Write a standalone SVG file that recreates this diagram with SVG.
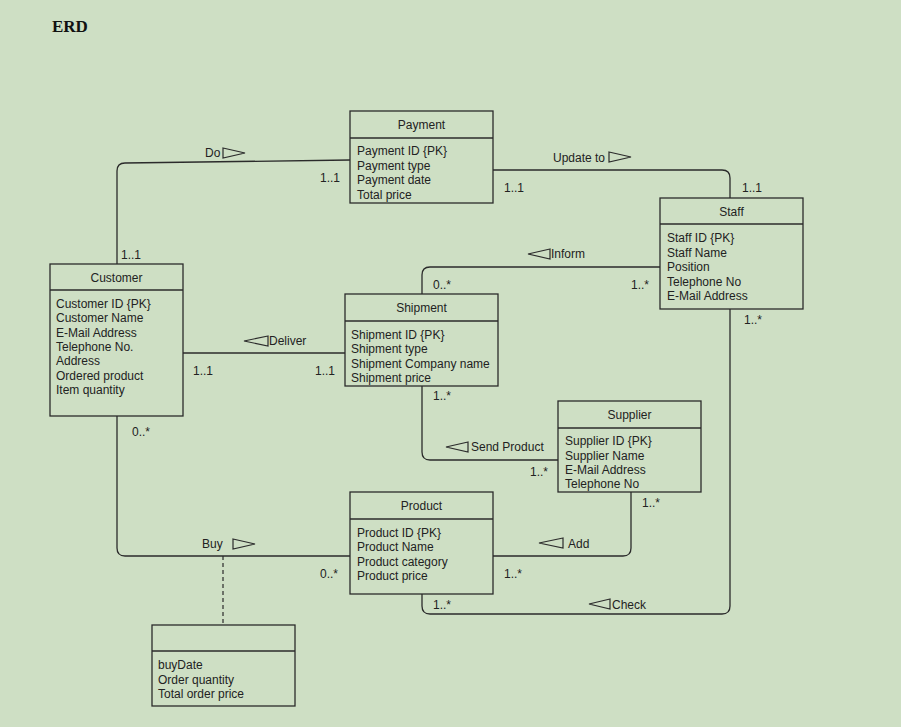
<svg xmlns="http://www.w3.org/2000/svg" width="901" height="727" viewBox="0 0 901 727">
<style>
.bg{fill:#cedfc4}
.box{fill:none;stroke:#2b2b2b;stroke-width:1.3}
.ln{fill:none;stroke:#2b2b2b;stroke-width:1.3}
.dash{fill:none;stroke:#2b2b2b;stroke-width:1.2;stroke-dasharray:4 3}
.tri{fill:none;stroke:#2b2b2b;stroke-width:1.2}
text{font-family:"Liberation Sans",Arial,sans-serif;font-size:12px;fill:#222}
.h{text-anchor:middle}
.title{font-family:"Liberation Serif","Times New Roman",serif;font-size:17px;font-weight:bold;fill:#111}
</style>
<rect class="bg" x="0" y="0" width="901" height="727"/>
<text class="title" x="52" y="32">ERD</text>

<g id="connectors">
  <!-- Do -->
  <path class="ln" d="M117,264 V171 Q117,163 125,163 L350,160"/>
  <!-- Update to -->
  <path class="ln" d="M493,170 H722 Q730,170 730,178 V198"/>
  <!-- Inform -->
  <path class="ln" d="M660,267 H430 Q422,267 422,275 V294"/>
  <!-- Deliver -->
  <path class="ln" d="M183,353 H345"/>
  <!-- Send Product -->
  <path class="ln" d="M422,386 V452 Q422,460 430,460 H558"/>
  <!-- Check -->
  <path class="ln" d="M730,309 V606 Q730,614 722,614 H430 Q422,614 422,606 V594"/>
  <!-- Add -->
  <path class="ln" d="M631,492 V548 Q631,556 623,556 H493"/>
  <!-- Buy -->
  <path class="ln" d="M117,416 V548 Q117,556 125,556 H350"/>
  <path class="dash" d="M223,556 V625"/>

  <text x="205" y="157">Do</text>
  <polygon class="tri" points="223,148 245,153 223,158"/>
  <text x="320" y="182">1..1</text>
  <text x="121" y="259">1..1</text>

  <text x="553" y="162">Update to</text>
  <polygon class="tri" points="609,152 631,157 609,162"/>
  <text x="504" y="192">1..1</text>
  <text x="742" y="192">1..1</text>

  <polygon class="tri" points="550,249 528,254 550,259"/>
  <text x="551" y="258">Inform</text>
  <text x="433" y="289">0..*</text>
  <text x="631" y="289">1..*</text>

  <polygon class="tri" points="268,336 244,341 268,346"/>
  <text x="269" y="345">Deliver</text>
  <text x="193" y="375">1..1</text>
  <text x="315" y="375">1..1</text>

  <polygon class="tri" points="468,442 446,447 468,452"/>
  <text x="471" y="451">Send Product</text>
  <text x="433" y="400">1..*</text>
  <text x="530" y="476">1..*</text>

  <text x="744" y="324">1..*</text>
  <text x="433" y="609">1..*</text>
  <polygon class="tri" points="610,599 589,604 610,609"/>
  <text x="612" y="609">Check</text>

  <polygon class="tri" points="563,538 539,543 563,548"/>
  <text x="568" y="548">Add</text>
  <text x="642" y="507">1..*</text>
  <text x="504" y="578">1..*</text>

  <text x="202" y="548">Buy</text>
  <polygon class="tri" points="233,539 255,544 233,549"/>
  <text x="132" y="436">0..*</text>
  <text x="320" y="578">0..*</text>
</g>

<g id="payment">
  <rect class="box" x="350" y="111" width="143" height="92"/>
  <line class="box" x1="350" y1="138" x2="493" y2="138"/>
  <text class="h" x="421.5" y="129">Payment</text>
  <text x="357" y="155">Payment ID {PK}</text>
  <text x="357" y="169.5">Payment type</text>
  <text x="357" y="184">Payment date</text>
  <text x="357" y="198.5">Total price</text>
</g>

<g id="staff">
  <rect class="box" x="660" y="198" width="143" height="111"/>
  <line class="box" x1="660" y1="224" x2="803" y2="224"/>
  <text class="h" x="731.5" y="216">Staff</text>
  <text x="667" y="242">Staff ID {PK}</text>
  <text x="667" y="256.5">Staff Name</text>
  <text x="667" y="271">Position</text>
  <text x="667" y="285.5">Telephone No</text>
  <text x="667" y="300">E-Mail Address</text>
</g>

<g id="customer">
  <rect class="box" x="50" y="264" width="133" height="152"/>
  <line class="box" x1="50" y1="290" x2="183" y2="290"/>
  <text class="h" x="116.5" y="282">Customer</text>
  <text x="56" y="307.5">Customer ID {PK}</text>
  <text x="56" y="322">Customer Name</text>
  <text x="56" y="336.5">E-Mail Address</text>
  <text x="56" y="351">Telephone No.</text>
  <text x="56" y="365">Address</text>
  <text x="56" y="379.5">Ordered product</text>
  <text x="56" y="393.5">Item quantity</text>
</g>

<g id="shipment">
  <rect class="box" x="345" y="294" width="153" height="92"/>
  <line class="box" x1="345" y1="321" x2="498" y2="321"/>
  <text class="h" x="421.5" y="312">Shipment</text>
  <text x="351" y="338.5">Shipment ID {PK}</text>
  <text x="351" y="353">Shipment type</text>
  <text x="351" y="367.5">Shipment Company name</text>
  <text x="351" y="381.5">Shipment price</text>
</g>

<g id="supplier">
  <rect class="box" x="558" y="401" width="143" height="91"/>
  <line class="box" x1="558" y1="428" x2="701" y2="428"/>
  <text class="h" x="629.5" y="419">Supplier</text>
  <text x="565" y="445">Supplier ID {PK}</text>
  <text x="565" y="459.5">Supplier Name</text>
  <text x="565" y="474">E-Mail Address</text>
  <text x="565" y="488">Telephone No</text>
</g>

<g id="product">
  <rect class="box" x="350" y="492" width="143" height="102"/>
  <line class="box" x1="350" y1="519" x2="493" y2="519"/>
  <text class="h" x="421.5" y="510">Product</text>
  <text x="357" y="537">Product ID {PK}</text>
  <text x="357" y="551">Product Name</text>
  <text x="357" y="565.5">Product category</text>
  <text x="357" y="579.5">Product price</text>
</g>

<g id="buy-assoc">
  <rect class="box" x="152" y="625" width="143" height="81"/>
  <line class="box" x1="152" y1="651" x2="295" y2="651"/>
  <text x="158" y="669">buyDate</text>
  <text x="158" y="683.5">Order quantity</text>
  <text x="158" y="697.5">Total order price</text>
</g>
</svg>
